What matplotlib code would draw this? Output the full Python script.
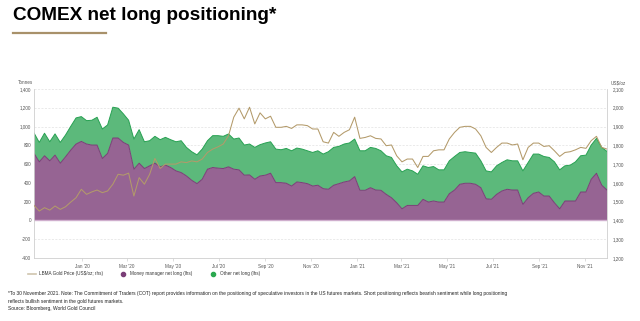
import numpy as np
import pandas as pd
import matplotlib
matplotlib.use("Agg")
import matplotlib.pyplot as plt
import matplotlib.dates as mdates
from matplotlib.lines import Line2D
from matplotlib.ticker import FuncFormatter, MultipleLocator

plt.rcParams['font.family'] = ['Liberation Sans', 'DejaVu Sans']

# weekly COT data, tonnes (top of stack = money manager + other)
total_net_long = [932, 831, 929, 838, 922, 831, 910, 1003, 1092, 1106, 1063, 1067, 1099, 974, 1017,
                  1206, 1196, 1135, 1067, 867, 967, 838, 849, 896, 860, 885, 860, 838, 849,
                  778, 732, 699, 760, 849, 903, 903, 896, 921, 867, 878, 803, 814, 778, 807, 825,
                  838, 760, 753, 767, 742, 771, 760, 742, 724, 742, 707,
                  732, 778, 789, 814, 825, 867, 742, 742, 778, 767, 742, 689, 671, 582, 517, 546,
                  528, 492, 582, 564, 574, 539, 539, 635, 681, 724, 732,
                  724, 717, 635, 528, 517, 582, 617, 646, 635, 635, 528, 617, 707, 707, 681, 671,
                  624, 539, 582, 589, 624, 689, 696, 803, 874, 778, 735]

money_manager = [714, 624, 689, 635, 696, 610, 678, 750, 814, 842, 814, 803, 803, 660, 714,
                 878, 878, 831, 803, 546, 610, 553, 582, 610, 571, 589, 564, 528, 510,
                 474, 428, 392, 439, 546, 564, 557, 553, 571, 546, 539, 482, 485, 439, 474, 482,
                 503, 403, 403, 396, 367, 410, 403, 392, 367, 375, 339,
                 332, 375, 392, 410, 421, 467, 321, 321, 349, 324, 321, 278, 242, 188, 124, 160,
                 160, 160, 225, 196, 207, 196, 196, 285, 324, 385, 396,
                 396, 385, 349, 231, 225, 278, 314, 332, 324, 324, 171, 242, 289, 303, 260, 260,
                 188, 124, 207, 207, 207, 303, 303, 439, 503, 375, 324]

# LBMA gold price, US$/oz
gold_price = [1480, 1450, 1468, 1455, 1477, 1459, 1473, 1498, 1521, 1566, 1539, 1552, 1562, 1548, 1557,
              1593, 1646, 1641, 1652, 1530, 1628, 1593, 1646, 1730, 1677, 1700, 1700, 1700, 1712,
              1708, 1717, 1712, 1727, 1762, 1780, 1792, 1807, 1851, 1950, 1998, 1941, 2003, 1914, 1973,
              1941, 1955, 1896, 1896, 1901, 1890, 1909, 1909, 1905, 1887, 1887, 1819,
              1812, 1869, 1848, 1869, 1883, 1950, 1837, 1842, 1851, 1837, 1834, 1798, 1802, 1744,
              1712, 1727, 1727, 1682, 1741, 1741, 1771, 1776, 1776, 1834, 1869, 1896, 1901,
              1901, 1887, 1851, 1789, 1762, 1789, 1812, 1812, 1802, 1807, 1723, 1789, 1812, 1812,
              1794, 1798, 1771, 1741, 1762, 1766, 1776, 1789, 1784, 1825, 1848, 1789, 1780]

legend_labels = ["LBMA Gold Price (US$/oz; rhs)", "Money manager net long (lhs)", "Other net long (lhs)"]

dates = pd.date_range(end="2021-11-30", periods=len(gold_price), freq="7D")
tick_dates = pd.date_range("2020-01-01", "2021-11-01", freq="2MS")
other_net_long = np.array(total_net_long) - np.array(money_manager)

purple = "#966493"
purple_line = "#7a3d77"
green = "#5cb97b"
green_line = "#27a152"
gold = "#b39a6a"
grey = "#cfcfcf"
txt = "#555555"

fig = plt.figure(figsize=(6.4, 3.21), dpi=100)
ax = fig.add_axes([34/640, 1-258/321, (607-34)/640, (258-89)/321])

ax.stackplot(dates, money_manager, other_net_long, colors=[purple, green], lw=0)
ax.plot(dates, total_net_long, color=green_line, lw=0.7)
ax.plot(dates, money_manager, color=purple_line, lw=0.7)
ax.axhline(0, color="#cfaecd", lw=1.0)

ax.set_ylim(-400, 1400)
ax.yaxis.set_major_locator(MultipleLocator(200))
ax.yaxis.set_major_formatter(FuncFormatter(lambda v, p: f"{v:,.0f}"))
ax.set_xlim(dates[0], dates[-1])
ax.set_xticks(tick_dates)
ax.xaxis.set_major_formatter(mdates.DateFormatter("%b '%y"))
ax.grid(axis="y", color="#e2e2e2", ls=(0, (3, 2)), lw=0.5)
ax.set_axisbelow(True)

ax2 = ax.twinx()
ax2.plot(dates, gold_price, color=gold, lw=0.75)
ax2.set_ylim(1200, 2100)
ax2.yaxis.set_major_locator(MultipleLocator(100))
ax2.yaxis.set_major_formatter(FuncFormatter(lambda v, p: f"{v:,.0f}"))

for a in (ax, ax2):
    for s in a.spines.values():
        s.set_color(grey)
        s.set_linewidth(0.6)
    a.spines["top"].set_visible(False)
    a.tick_params(labelsize=3.3, colors=txt, length=2, width=0.5, color=grey, pad=2)
ax.spines["right"].set_visible(False)
ax2.spines["left"].set_visible(False)
ax2.spines["bottom"].set_visible(False)
ax.tick_params(axis="y", length=0)
ax2.tick_params(axis="y", length=0, pad=4)

fig.text(18/640, 1-83/321, "Tonnes", fontsize=3.3, color=txt, va="center")
fig.text(611/640, 1-83/321, "US$/oz", fontsize=3.3, color=txt, va="center")

# title and underline
fig.text(13/640, 1-16/321, "COMEX net long positioning*", fontsize=13.7, fontweight="bold", va="center")
fig.add_artist(Line2D([13/640, 106/640], [1-33/321, 1-33/321], color="#a8916a", lw=1.6))

handles = [Line2D([], [], color="#cfc5ae", lw=1.2),
           Line2D([], [], color=purple_line, marker="o", ls="none", ms=3),
           Line2D([], [], color="#2aa84f", marker="o", ls="none", ms=3)]
fig.legend(handles, legend_labels, loc="center left", bbox_to_anchor=(24/640, 1-274/321), ncol=3,
           frameon=False, fontsize=3.3, handlelength=1.8, handletextpad=0.6, columnspacing=3.5,
           labelcolor="#333333")

note = ("*To 30 November 2021. Note: The Commitment of Traders (COT) report provides information on the positioning "
        "of speculative investors in the US futures markets. Short positioning reflects bearish sentiment while long positioning\n"
        "reflects bullish sentiment in the gold futures markets.\n"
        "Source: Bloomberg, World Gold Council")
fig.text(8/640, 1-291.5/321, note, fontsize=3.48, color="#222222", va="top", linespacing=1.55)

fig.savefig("out.png", dpi=100)
